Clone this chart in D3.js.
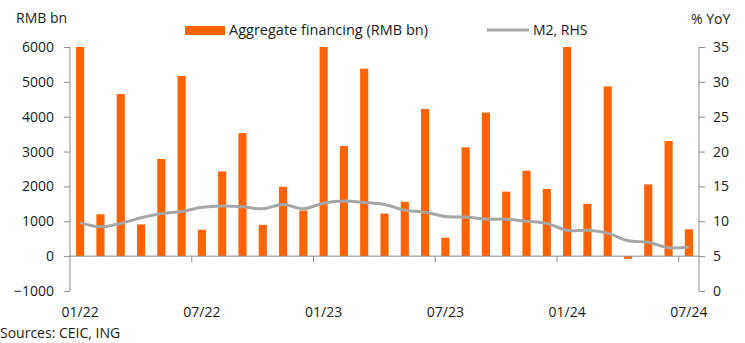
<!DOCTYPE html>
<html>
<head>
<meta charset="utf-8">
<script src="https://cdn.jsdelivr.net/npm/d3@7"></script>
<style>
  html, body { margin: 0; padding: 0; background: #fff; }
  svg { display: block; }
  text { font-family: "Open Sans", "Noto Sans", sans-serif; fill: #1a1a1a; }
</style>
</head>
<body>
<svg id="chart" width="745" height="343"></svg>
<script>
// Monthly categories, Jan 2022 to Jul 2024
const months = [
  "01/22","02/22","03/22","04/22","05/22","06/22","07/22","08/22","09/22","10/22","11/22","12/22",
  "01/23","02/23","03/23","04/23","05/23","06/23","07/23","08/23","09/23","10/23","11/23","12/23",
  "01/24","02/24","03/24","04/24","05/24","06/24","07/24"
];
// Aggregate financing, RMB bn (left axis)
const financing = [
  6000, 1200, 4650, 910, 2790, 5170, 756, 2430, 3530, 900, 1990, 1310,
  6000, 3160, 5380, 1220, 1560, 4220, 528, 3120, 4120, 1850, 2450, 1930,
  6000, 1500, 4870, -80, 2060, 3300, 770
];
// M2 growth, % YoY (right axis)
const m2 = [
  9.8, 9.2, 9.7, 10.5, 11.1, 11.4, 12.0, 12.2, 12.1, 11.8, 12.4, 11.8,
  12.6, 12.9, 12.7, 12.4, 11.6, 11.3, 10.7, 10.6, 10.3, 10.3, 10.0, 9.7,
  8.7, 8.7, 8.3, 7.2, 7.0, 6.2, 6.3
];
const leftTicks = [-1000, 0, 1000, 2000, 3000, 4000, 5000, 6000];
const rightTicks = [0, 5, 10, 15, 20, 25, 30, 35];
const labelMonths = ["01/22", "07/22", "01/23", "07/23", "01/24", "07/24"];

const svg = d3.select("#chart");
const plot = { left: 70, right: 699, top: 47, bottom: 291 };
const orange = "#ff6200", grey = "#a6a6a6", axisColor = "#8c8c8c";

const xb = d3.scaleBand().domain(months).range([plot.left, plot.right]);
const yL = d3.scaleLinear().domain([-1000, 6000]).range([plot.bottom, plot.top]);
const yR = d3.scaleLinear().domain([0, 35]).range([plot.bottom, plot.top]);
const barW = xb.bandwidth() * 0.4;
const cx = m => xb(m) + xb.bandwidth() / 2;

// Bars
svg.append("g").selectAll("rect").data(financing).join("rect")
  .attr("x", (d, i) => cx(months[i]) - barW / 2)
  .attr("width", barW)
  .attr("y", d => yL(Math.max(0, d)))
  .attr("height", d => Math.abs(yL(d) - yL(0)))
  .attr("fill", orange);

// Left and right value axes
const gL = svg.append("g").attr("transform", `translate(${plot.left},0)`)
  .call(d3.axisLeft(yL).tickValues(leftTicks).tickSize(6).tickPadding(10).tickFormat(d3.format("d")));
const gR = svg.append("g").attr("transform", `translate(${plot.right},0)`)
  .call(d3.axisRight(yR).tickValues(rightTicks).tickSize(6).tickPadding(8));
[gL, gR].forEach(g => {
  g.select(".domain").attr("stroke", axisColor).attr("d", `M0,${plot.top}V${plot.bottom}`);
  g.selectAll(".tick line").attr("stroke", axisColor);
  g.selectAll(".tick text").attr("font-size", 14).attr("fill", "#1a1a1a")
    .style("font-family", '"Open Sans", sans-serif');
});

// Category axis along the zero line, ticks every six months between categories
const gX = svg.append("g");
gX.append("line").attr("x1", plot.left).attr("x2", plot.right)
  .attr("y1", yL(0)).attr("y2", yL(0)).attr("stroke", axisColor);
gX.selectAll("line.tk").data(months.filter((m, i) => i % 6 === 0 && i > 0)).join("line")
  .attr("class", "tk")
  .attr("x1", d => xb(d)).attr("x2", d => xb(d))
  .attr("y1", yL(0)).attr("y2", yL(0) + 6).attr("stroke", axisColor);
gX.selectAll("text").data(labelMonths).join("text")
  .attr("x", d => cx(d))
  .attr("y", 317)
  .attr("text-anchor", "middle")
  .attr("font-size", 14)
  .text(d => d);

// M2 line, smoothed
const line = d3.line()
  .x((d, i) => cx(months[i]))
  .y(d => yR(d))
  .curve(d3.curveCatmullRom.alpha(0.5));
svg.append("path").datum(m2)
  .attr("d", line).attr("fill", "none")
  .attr("stroke", grey).attr("stroke-width", 3);

// Axis titles
svg.append("text").attr("x", 16).attr("y", 23).attr("font-size", 14).text("RMB bn");
svg.append("text").attr("x", 691).attr("y", 24).attr("font-size", 14).text("% YoY");

// Legend
const lg = svg.append("g");
lg.append("rect").attr("x", 185).attr("y", 26).attr("width", 40).attr("height", 9).attr("fill", orange);
lg.append("text").attr("x", 229).attr("y", 35).attr("font-size", 14.5).text("Aggregate financing (RMB bn)");
lg.append("line").attr("x1", 487).attr("x2", 529).attr("y1", 30).attr("y2", 30)
  .attr("stroke", grey).attr("stroke-width", 3);
lg.append("text").attr("x", 533).attr("y", 35).attr("font-size", 14).text("M2, RHS");

// Source note
svg.append("text").attr("x", 0).attr("y", 338).attr("font-size", 14).text("Sources: CEIC, ING");
</script>
</body>
</html>
